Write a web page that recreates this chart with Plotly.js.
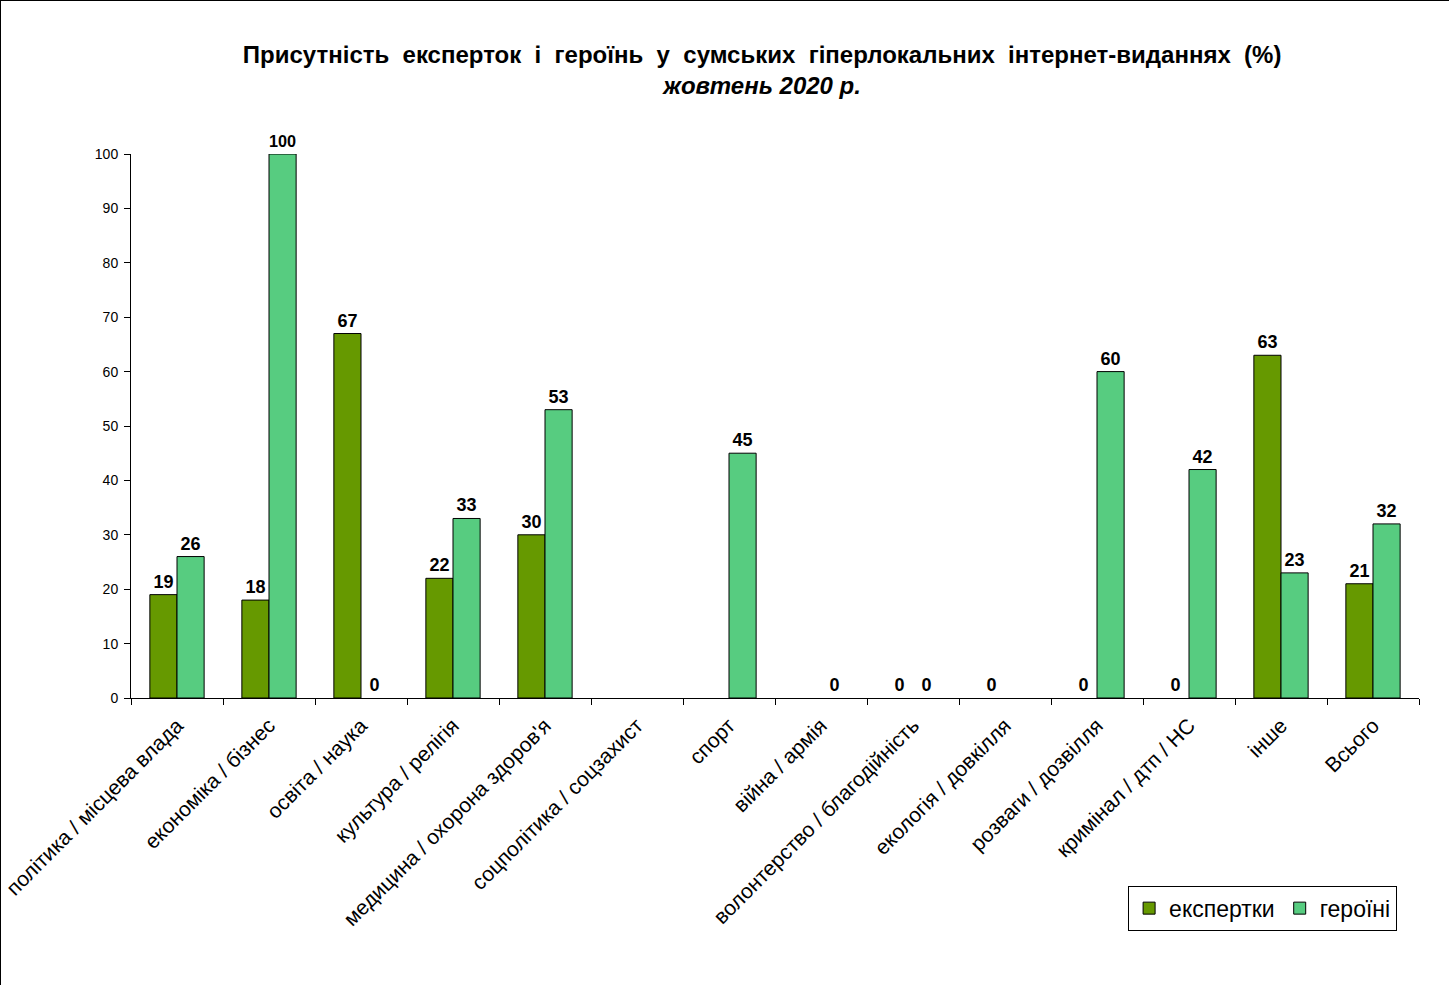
<!DOCTYPE html>
<html>
<head>
<meta charset="utf-8">
<script src="https://cdn.plot.ly/plotly-3.0.1.min.js"></script>
<style>
html,body{margin:0;padding:0;background:#fff;}
#chart{width:1449px;height:985px;box-sizing:border-box;border:1px solid #000;}
</style>
</head>
<body>
<div id="chart"></div>
<script>
const categories = [
  "політика / місцева влада",
  "економіка / бізнес",
  "освіта / наука",
  "культура / релігія",
  "медицина / охорона здоров'я",
  "соцполітика / соцзахист",
  "спорт",
  "війна / армія",
  "волонтерство / благодійність",
  "екологія / довкілля",
  "розваги / дозвілля",
  "кримінал / дтп / НС",
  "інше",
  "Всього"
];
const experts  = [19, 18, 67, 22, 30, null, null, null, 0, 0, 0, 0, 63, 21];
const heroines = [26, 100, 0, 33, 53, null, 45, 0, 0, null, 60, 42, 23, 32];

const font = "Arial, 'Liberation Sans', sans-serif";
const labelFont = {family: font, size: 18, color: "#000", weight: "bold"};

function lineWidths(arr) { return arr.map(v => (v === null || v === 0) ? 0 : 1); }

const traces = [
  {
    type: "bar", name: "експертки", x: categories, y: experts,
    marker: {color: "#669900", line: {color: "#000", width: lineWidths(experts)}},
    text: experts.map(v => v === null ? "" : String(v)),
    texttemplate: "%{text}", textposition: "outside", cliponaxis: false,
    textfont: labelFont, hoverinfo: "x+y"
  },
  {
    type: "bar", name: "героїні", x: categories, y: heroines,
    marker: {color: "#57CC80", line: {color: "#000", width: lineWidths(heroines)}},
    text: heroines.map(v => v === null ? "" : String(v)),
    texttemplate: "%{text}", textposition: "outside", cliponaxis: false,
    textfont: labelFont, hoverinfo: "x+y"
  }
];

const layout = {
  width: 1449, height: 985,
  margin: {l: 130, r: 31, t: 153, b: 288},
  paper_bgcolor: "#fff", plot_bgcolor: "#fff",
  font: {family: font, color: "#000"},
  title: {
    text: "<b>Присутність  експерток  і  героїнь  у  сумських  гіперлокальних  інтернет-виданнях  (%)</b><br><b><i>жовтень 2020 р.</i></b>",
    font: {family: font, size: 24, color: "#000"},
    x: 0.49, xref: "paper", xanchor: "center",
    y: 0.937, yref: "container", yanchor: "top",
    automargin: false
  },
  barmode: "group", bargap: 0.41, bargroupgap: 0,
  showlegend: true,
  legend: {
    orientation: "h", x: 0.983, xanchor: "right", y: -0.345, yanchor: "top",
    xref: "paper", yref: "paper",
    bordercolor: "#000", borderwidth: 1, bgcolor: "#fff",
    font: {family: font, size: 23, color: "#000"},
    traceorder: "normal"
  },
  xaxis: {
    type: "category", tickangle: -45, automargin: false,
    tickfont: {family: font, size: 21, color: "#000"},
    ticklabelstandoff: 6,
    showline: true, linecolor: "#000", linewidth: 1,
    ticks: "outside", ticklen: 6, tickcolor: "#000",
    tickson: "boundaries", showgrid: false, zeroline: false
  },
  yaxis: {
    range: [0, 100], dtick: 10, tick0: 0, automargin: false,
    tickfont: {family: font, size: 14, color: "#000"},
    ticklabelstandoff: 3,
    showline: true, linecolor: "#000", linewidth: 1,
    ticks: "outside", ticklen: 6, tickcolor: "#000",
    showgrid: false, zeroline: false
  }
};

Plotly.newPlot("chart", traces, layout, {displayModeBar: false, staticPlot: true});
</script>
</body>
</html>
